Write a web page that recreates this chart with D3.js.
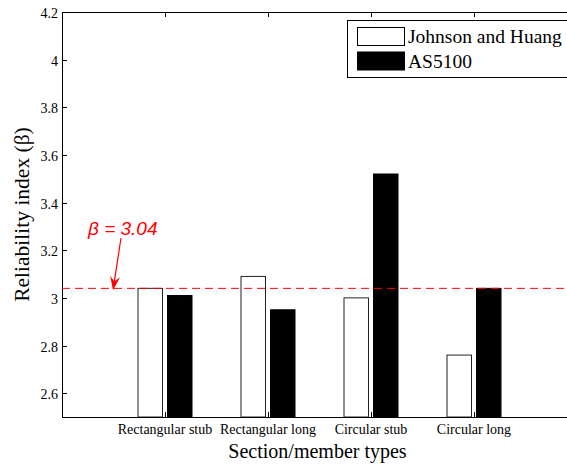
<!DOCTYPE html>
<html><head><meta charset="utf-8">
<script src="https://cdn.jsdelivr.net/npm/d3@7"></script>
<style>body{margin:0;background:#fff;} svg{display:block;}</style>
</head><body>
<script>
const categories = ["Rectangular stub", "Rectangular long", "Circular stub", "Circular long"];
const seriesNames = ["Johnson and Huang", "AS5100"];
const johnsonHuang = [3.04, 3.09, 3.00, 2.76];
const as5100 = [3.01, 2.95, 3.52, 3.04];
const yTicks = [2.6, 2.8, 3.0, 3.2, 3.4, 3.6, 3.8, 4.0, 4.2];
const targetBeta = 3.04;

const W = 567, H = 466;
const m = {left: 62, top: 12, right: 577, bottom: 417};
const svg = d3.select("body").append("svg").attr("width", W).attr("height", H);
const serif = "Liberation Serif";

// first slot is an empty leading slot; category ticks sit at slot left edges
const x = d3.scaleBand().domain(["", ...categories]).range([m.left, m.right]).paddingInner(0).paddingOuter(0);
const x1 = d3.scaleBand().domain(seriesNames).range([-27, 27]).paddingInner(0.17);
const y = d3.scaleLinear().domain([2.5, 4.2]).range([m.bottom, m.top]);
const catX = c => x(c);

// bars
const data = [];
categories.forEach((c, i) => {
  data.push({c, s: seriesNames[0], v: johnsonHuang[i]});
  data.push({c, s: seriesNames[1], v: as5100[i]});
});
svg.append("g").selectAll("rect").data(data).join("rect")
  .attr("x", d => catX(d.c) + x1(d.s))
  .attr("width", x1.bandwidth())
  .attr("y", d => y(d.v))
  .attr("height", d => y(2.5) - y(d.v))
  .attr("fill", d => d.s === seriesNames[0] ? "#fff" : "#000")
  .attr("stroke", d => d.s === seriesNames[0] ? "#222" : "#000")
  .attr("stroke-width", 1);

// axes lines
svg.append("line").attr("x1", m.left).attr("x2", m.right).attr("y1", m.bottom + 0.5).attr("y2", m.bottom + 0.5).attr("stroke", "#000");
svg.append("line").attr("x1", m.left).attr("x2", m.right).attr("y1", m.top + 0.5).attr("y2", m.top + 0.5).attr("stroke", "#000");
svg.append("line").attr("x1", m.left + 0.5).attr("x2", m.left + 0.5).attr("y1", m.top).attr("y2", m.bottom).attr("stroke", "#000");

// y ticks
const yg = svg.append("g");
yTicks.forEach(t => {
  const yy = Math.round(y(t)) + 0.5;
  yg.append("line").attr("x1", m.left).attr("x2", m.left + 5).attr("y1", yy).attr("y2", yy).attr("stroke", "#000");
  yg.append("text").attr("x", m.left - 4).attr("y", yy + 5).attr("text-anchor", "end")
    .attr("font-family", serif).attr("font-size", 14).text(String(+t.toFixed(1)));
});

// x ticks & labels
categories.forEach(c => {
  const xx = Math.round(catX(c)) + 0.5;
  svg.append("line").attr("x1", xx).attr("x2", xx).attr("y1", m.bottom).attr("y2", m.bottom - 5).attr("stroke", "#000");
  svg.append("line").attr("x1", xx).attr("x2", xx).attr("y1", m.top).attr("y2", m.top + 5).attr("stroke", "#000");
  svg.append("text").attr("x", catX(c)).attr("y", 434).attr("text-anchor", "middle")
    .attr("font-family", serif).attr("font-size", 14).text(c);
});

// axis titles
svg.append("text").attr("x", (m.left + m.right) / 2 - 2).attr("y", 458).attr("text-anchor", "middle")
  .attr("font-family", serif).attr("font-size", 20).text("Section/member types");
svg.append("text").attr("transform", `translate(29,${(m.top + m.bottom) / 2}) rotate(-90)`).attr("text-anchor", "middle")
  .attr("font-family", serif).attr("font-size", 21.5).text("Reliability index (β)");

// dashed target line
svg.append("line").attr("x1", m.left).attr("x2", m.right).attr("y1", y(targetBeta)).attr("y2", y(targetBeta))
  .attr("stroke", "#ff0000").attr("stroke-width", 1).attr("stroke-dasharray", "8,5");

// annotation
svg.append("text").attr("x", 88).attr("y", 235).attr("fill", "#ff0000")
  .attr("font-family", "Liberation Sans").attr("font-style", "italic").attr("font-size", 19)
  .text("β = 3.04");
const ax1 = 121, ay1 = 238, ax2 = 113, ay2 = y(targetBeta) + 2;
const ang = Math.atan2(ay2 - ay1, ax2 - ax1);
const hl = 14, hw = 5;
svg.append("line").attr("x1", ax1).attr("y1", ay1).attr("x2", ax2 - Math.cos(ang) * 8).attr("y2", ay2 - Math.sin(ang) * 8)
  .attr("stroke", "#ff0000").attr("stroke-width", 1.2);
const bx = ax2 - Math.cos(ang) * hl, by = ay2 - Math.sin(ang) * hl;
const nx = -Math.sin(ang), ny = Math.cos(ang);
svg.append("path").attr("d", `M${ax2},${ay2} L${bx + nx * hw},${by + ny * hw} L${ax2 - Math.cos(ang) * 9},${ay2 - Math.sin(ang) * 9} L${bx - nx * hw},${by - ny * hw} Z`)
  .attr("fill", "#ff0000");

// legend
const lg = svg.append("g");
lg.append("rect").attr("x", 347.5).attr("y", 20.5).attr("width", 230).attr("height", 57).attr("fill", "#fff").attr("stroke", "#000");
seriesNames.forEach((s, i) => {
  lg.append("rect").attr("x", 357.5).attr("y", 27.5 + i * 24.5).attr("width", 47).attr("height", 18)
    .attr("fill", i === 0 ? "#fff" : "#000").attr("stroke", "#000");
  lg.append("text").attr("x", 408).attr("y", 43 + i * 24.5).attr("font-family", serif).attr("font-size", 19.5).text(s);
});
</script>
</body></html>
